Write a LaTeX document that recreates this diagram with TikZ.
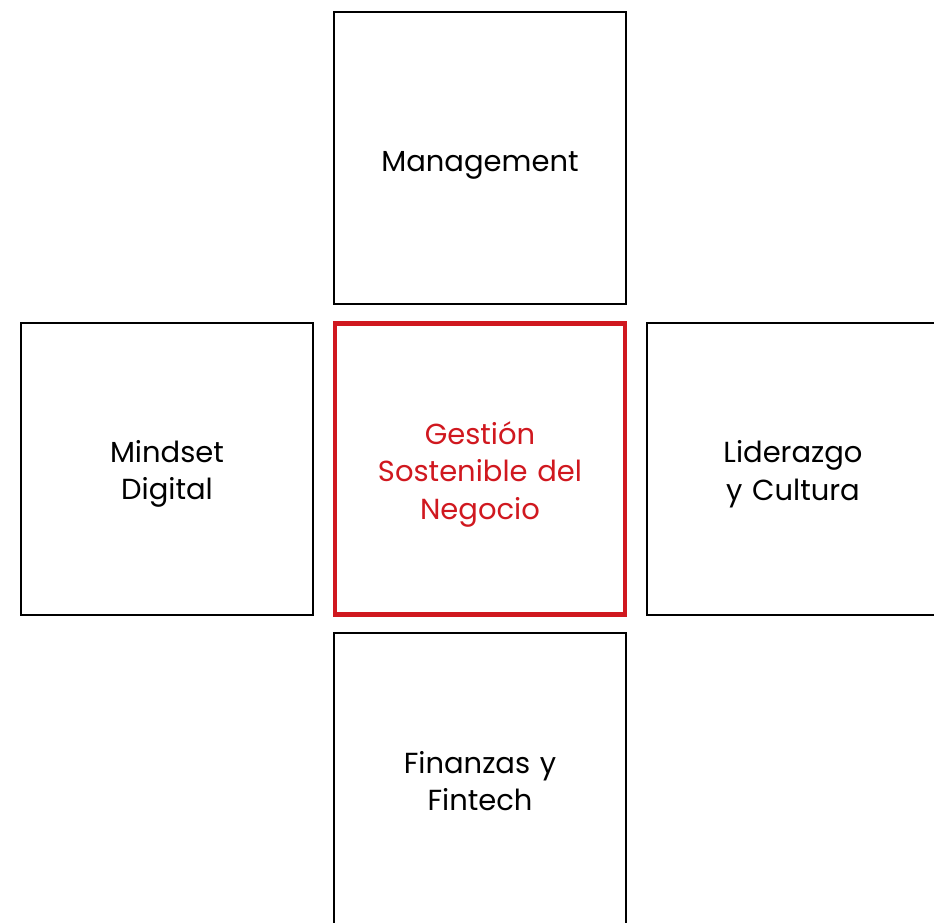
\documentclass[tikz,border=0pt]{standalone}
\usepackage{fontspec}
\setmainfont{Poppins}
\definecolor{boxred}{HTML}{D0181F}
\begin{document}
\begin{tikzpicture}[x=1pt,y=-1pt,
  box/.style={draw=black, line width=2.8pt, minimum width=292pt, minimum height=292pt, inner sep=0pt},
  redbox/.style={box, draw=boxred, line width=4.5pt, minimum width=290pt, minimum height=291pt},
  boxtext/.style={align=center, text width=280pt, font=\fontsize{29}{37.5}\selectfont}]
\useasboundingbox (0,0) rectangle (934,922);
\clip (0,0) rectangle (934,922);
\node[box, label={[boxtext, yshift=-7pt]center:Management}] (top) at (480,158) {};
\node[redbox, label={[boxtext, text=boxred, yshift=-5pt]center:Gestión\\Sostenible del\\Negocio}] (center) at (480,469) {};
\node[box, label={[boxtext, yshift=-5pt]center:Mindset\\Digital}] (left) at (167,469) {};
\node[box, label={[boxtext, yshift=-5pt]center:Liderazgo\\y Cultura}] (right) at (793,469) {};
\node[box, label={[boxtext, yshift=-2pt]center:Finanzas y\\Fintech}] (bottom) at (480,779) {};
\end{tikzpicture}
\end{document}
